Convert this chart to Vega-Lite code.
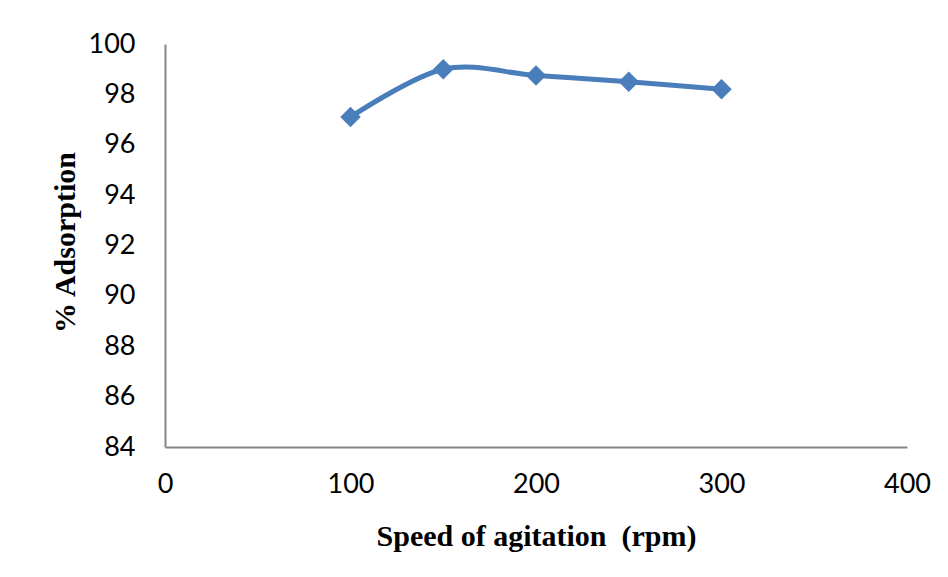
{
  "$schema": "https://vega.github.io/schema/vega-lite/v6.json",
  "autosize": {"type": "none"},
  "width": 742,
  "height": 403,
  "padding": {"left": 165, "top": 44, "right": 41, "bottom": 130},
  "background": "white",
  "config": {"view": {"stroke": null}},
  "data": {"values": [
    {"speed": 100, "adsorption": 97.1},
    {"speed": 150, "adsorption": 99.0},
    {"speed": 200, "adsorption": 98.75},
    {"speed": 250, "adsorption": 98.5},
    {"speed": 300, "adsorption": 98.2}
  ]},
  "encoding": {
    "x": {"field": "speed", "type": "quantitative",
      "scale": {"domain": [0, 400], "nice": false, "zero": false},
      "axis": {"title": "Speed of agitation\u00a0 (rpm)", "values": [0, 100, 200, 300, 400], "grid": false, "ticks": false,
        "domainColor": "#868686", "domainWidth": 2,
        "labelFont": "Lato", "labelFontSize": 27, "labelColor": "black", "labelPadding": 24, "labelFlush": false,
        "titleFont": "Liberation Serif", "titleFontSize": 30, "titleFontWeight": "bold", "titleColor": "black",
        "titleBaseline": "middle", "titleY": 89}},
    "y": {"field": "adsorption", "type": "quantitative",
      "scale": {"domain": [84, 100], "nice": false, "zero": false},
      "axis": {"title": "% Adsorption", "values": [84, 86, 88, 90, 92, 94, 96, 98, 100], "grid": false, "ticks": false,
        "domainColor": "#868686", "domainWidth": 2,
        "labelFont": "Lato", "labelFontSize": 27, "labelColor": "black", "labelPadding": 30, "labelFlush": false,
        "titleFont": "Liberation Serif", "titleFontSize": 30, "titleFontWeight": "bold", "titleColor": "black",
        "titleAngle": -90, "titleAlign": "center", "titleBaseline": "middle", "titleX": -100, "titleY": 198}}
  },
  "layer": [
    {"mark": {"type": "line", "interpolate": "cardinal", "tension": 0, "color": "#4a7ebb", "strokeWidth": 5}},
    {"mark": {"type": "point", "shape": "diamond", "filled": true, "opacity": 1, "color": "#4a7ebb", "size": 420}}
  ]
}
